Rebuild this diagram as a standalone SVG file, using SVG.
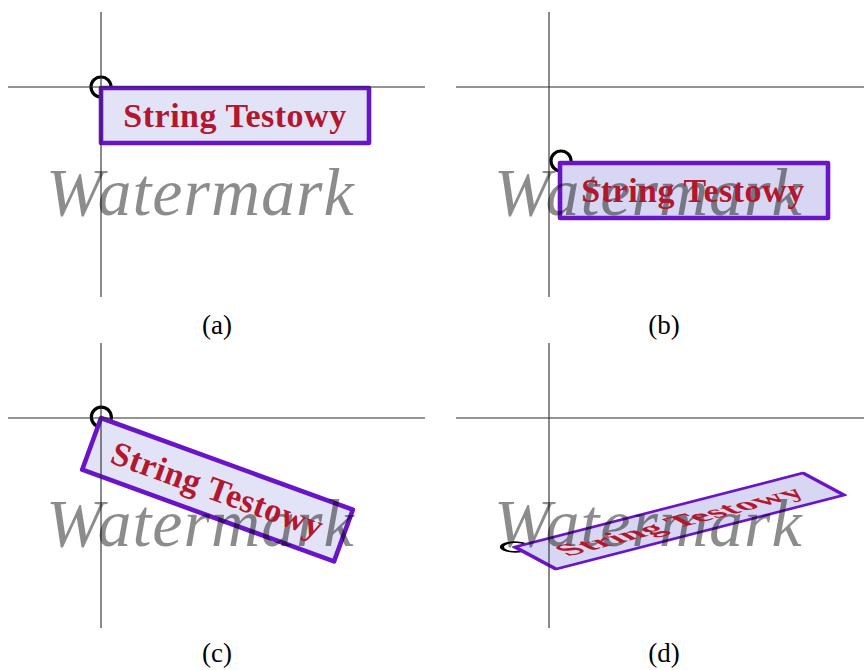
<svg xmlns="http://www.w3.org/2000/svg" width="864" height="670" viewBox="0 0 864 670">
<style>
.axis{stroke:#2a2a2a;stroke-width:1.1;fill:none}
.anchor{fill:none;stroke:#000;stroke-width:3.2}
.box{stroke:#6a14c8;stroke-width:4.6;stroke-linejoin:round}
.lbl{font-family:"Liberation Serif","DejaVu Serif",serif;font-weight:bold;font-size:34px;letter-spacing:0.5px;fill:#b3172e;text-anchor:middle}
.wm{font-family:"Liberation Serif","DejaVu Serif",serif;font-style:italic;font-size:68px;letter-spacing:1px;fill:#000;fill-opacity:0.45}
.cap{font-family:"Liberation Serif","DejaVu Serif",serif;font-size:27px;fill:#000;text-anchor:middle}
</style>
<rect width="864" height="670" fill="#fff"/>

<g id="panel-a">
  <g id="node-a" transform="translate(101,88)">
    <circle class="anchor" cx="0" cy="-1" r="10"/>
    <rect class="box" x="0" y="0" width="268" height="55" fill="#e3e3f7"/>
  </g>
  <g class="connectors">
    <line class="axis" x1="101" y1="12" x2="101" y2="297"/>
    <line class="axis" x1="8" y1="87" x2="425" y2="87"/>
  </g>
  <text class="wm" x="46" y="215">Watermark</text>
  <text class="lbl" x="235" y="127">String Testowy</text>
  <text class="cap" x="217" y="334">(a)</text>
</g>

<g id="panel-b">
  <g id="node-b" transform="translate(560,163)">
    <circle class="anchor" cx="1" cy="-2" r="10"/>
    <rect class="box" x="0" y="0" width="268" height="55" fill="#d7d7f3"/>
  </g>
  <g class="connectors">
    <line class="axis" x1="549" y1="12" x2="549" y2="297"/>
    <line class="axis" x1="456" y1="87" x2="864" y2="87"/>
  </g>
  <text class="wm" x="494" y="215">Watermark</text>
  <text class="lbl" x="693" y="202">String Testowy</text>
  <text class="cap" x="664" y="334">(b)</text>
</g>

<g id="panel-c">
  <g id="node-c" transform="translate(101,418) rotate(20)">
    <circle class="anchor" cx="0" cy="-1" r="10"/>
    <rect class="box" x="0" y="0" width="268" height="55" fill="#e3e3f7"/>
  </g>
  <g class="connectors">
    <line class="axis" x1="101" y1="343" x2="101" y2="628"/>
    <line class="axis" x1="8" y1="418" x2="425" y2="418"/>
  </g>
  <text class="wm" x="46" y="546">Watermark</text>
  <text class="lbl" transform="translate(101,418) rotate(20)" x="134" y="39">String Testowy</text>
  <text class="cap" x="217" y="662">(c)</text>
</g>

<g id="panel-d">
  <g id="node-d" transform="matrix(1.075,-0.276,0.745,0.4,515,547)">
    <circle class="anchor" cx="0" cy="0" r="10"/>
    <rect class="box" x="0" y="0" width="268" height="55" fill="#d7d7f3"/>
  </g>
  <g class="connectors">
    <line class="axis" x1="549" y1="343" x2="549" y2="628"/>
    <line class="axis" x1="456" y1="418" x2="864" y2="418"/>
  </g>
  <text class="wm" x="494" y="546">Watermark</text>
  <text class="lbl" transform="matrix(1.075,-0.276,0.745,0.4,515,547)" x="134" y="39">String Testowy</text>
  <text class="cap" x="664" y="662">(d)</text>
</g>
</svg>
